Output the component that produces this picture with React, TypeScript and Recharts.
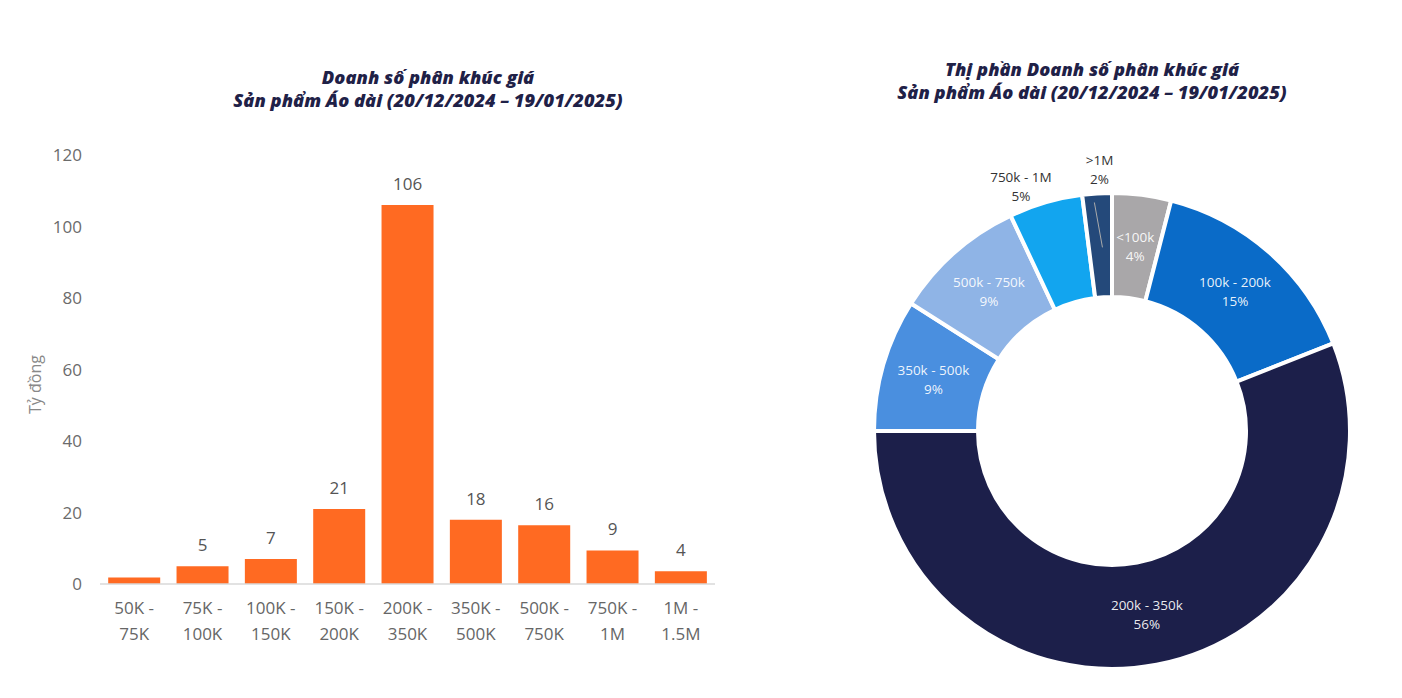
import { BarChart, Bar, XAxis, YAxis, LabelList, PieChart, Pie, Cell, Label } from 'recharts';

const priceBands = ['50K - 75K', '75K - 100K', '100K - 150K', '150K - 200K', '200K - 350K', '350K - 500K', '500K - 750K', '750K - 1M', '1M - 1.5M'];
const revenue = [1.8, 5, 7, 21, 106, 18, 16.4, 9.4, 3.6];
const yTicks = [0, 20, 40, 60, 80, 100, 120];

const shareNames = ['<100k', '100k - 200k', '200k - 350k', '350k - 500k', '500k - 750k', '750k - 1M', '>1M'];
const shareValues = [4, 15, 56, 9, 9, 5, 2];
const shareColors = ['#A9A7A9', '#0A6BC8', '#1C1F4A', '#4A8FDF', '#8FB4E6', '#12A5EF', '#24497A'];
const shareOutside = [false, false, false, false, false, true, true];

const barData = priceBands.map((band, i) => ({ band, value: revenue[i] }));
const pieData = shareNames.map((name, i) => ({ name, value: shareValues[i], outside: shareOutside[i] }));

const FONT = '"Open Sans", "Noto Sans", sans-serif';
const RAD = Math.PI / 180;

function BandTick(props: any) {
  const { x, y, payload } = props;
  const [a, b] = String(payload.value).split(' - ');
  return (
    <text x={x} y={y} textAnchor="middle" fill="#666" fontSize={17} fontFamily={FONT}>
      <tspan x={x} dy={22}>{a} -</tspan>
      <tspan x={x} dy={26}>{b}</tspan>
    </text>
  );
}

function renderShareLabel(props: any) {
  const { cx, cy, midAngle, innerRadius, outerRadius, payload, index } = props;
  const outside = payload.outside;
  const r = outside ? outerRadius + 24 : (innerRadius + outerRadius) / 2;
  // outside labels sit a little left of the slice, as in the original
  const nudgeX = outside ? (index === shareNames.length - 1 ? 4 : -18) : 0;
  const nudgeY = outside ? (index === shareNames.length - 1 ? -1 : 7) : 0;
  const x = cx + r * Math.cos(-midAngle * RAD) + nudgeX;
  const y = cy + r * Math.sin(-midAngle * RAD) + nudgeY;
  const fill = outside ? '#333' : '#ffffff';
  return (
    <g key={`lbl-${index}`}>
      {outside && index === shareNames.length - 1 && (
        <line
          x1={cx + (outerRadius - 5) * Math.cos(-midAngle * RAD) - 3}
          y1={cy + (outerRadius - 5) * Math.sin(-midAngle * RAD) + 4}
          x2={cx + (innerRadius + 50) * Math.cos(-midAngle * RAD) + 2}
          y2={cy + (innerRadius + 50) * Math.sin(-midAngle * RAD)}
          stroke="#aaa"
          strokeWidth={1}
        />
      )}
      <text x={x} y={y} textAnchor="middle" fill={fill} fillOpacity={outside ? 1 : 0.92} fontSize={13.5} fontFamily={FONT}>
        <tspan x={x} dy={-4}>{payload.name}</tspan>
        <tspan x={x} dy={19}>{payload.value}%</tspan>
      </text>
    </g>
  );
}

const titleStyle: React.CSSProperties = {
  position: 'absolute',
  textAlign: 'center',
  fontFamily: FONT,
  fontWeight: 800,
  fontStyle: 'italic',
  fontSize: 18.3,
  lineHeight: '23px',
  color: '#1F2147',
};

export default function App() {
  return (
    <div style={{ position: 'absolute', left: 0, top: 0, width: 1402, height: 698, background: '#fff', overflow: 'hidden' }}>
      <div style={{ ...titleStyle, left: 128, top: 65, width: 600 }}>
        Doanh số phân khúc giá<br />Sản phẩm Áo dài (20/12/2024 – 19/01/2025)
      </div>
      <div style={{ ...titleStyle, left: 792, top: 57, width: 600 }}>
        Thị phần Doanh số phân khúc giá<br />Sản phẩm Áo dài (20/12/2024 – 19/01/2025)
      </div>

      <div style={{ position: 'absolute', left: 0, top: 0 }}>
        <BarChart width={740} height={698} data={barData} margin={{ top: 155, right: 25, bottom: 54, left: 20 }} barCategoryGap="12%">
          <XAxis dataKey="band" height={60} interval={0} tick={<BandTick />} tickLine={false} axisLine={{ stroke: '#d9d9d9', strokeWidth: 1.5 }} />
          <YAxis
            width={80}
            domain={[0, 120]}
            ticks={yTicks}
            axisLine={false}
            tickLine={false}
            tickMargin={12}
            tick={{ fill: '#6b6b6b', fontSize: 17, fontFamily: FONT }}
          >
            <Label
              content={(p: any) => {
                const vb = p.viewBox;
                const lx = vb.x + 15;
                const ly = vb.y + vb.height / 2 + 15;
                return (
                  <text x={lx} y={ly} transform={`rotate(-90 ${lx} ${ly})`} textAnchor="middle" dominantBaseline="central" fill="#888" fontSize={16} fontFamily={FONT}>
                    Tỷ đồng
                  </text>
                );
              }}
            />
          </YAxis>
          <Bar dataKey="value" fill="#FF6A22" isAnimationActive={false}>
            <LabelList
              dataKey="value"
              position="top"
              offset={15}
              fill="#555"
              fontSize={17}
              fontFamily={FONT}
              formatter={(v: any) => (v < 3 ? '' : Math.round(v))}
            />
          </Bar>
        </BarChart>
      </div>

      <div style={{ position: 'absolute', left: 832, top: 0 }}>
        <PieChart width={560} height={698}>
          <Pie
            data={pieData}
            dataKey="value"
            nameKey="name"
            cx={275}
            cy={426}
            innerRadius={134}
            outerRadius={238}
            startAngle={90}
            endAngle={-270}
            stroke="#fff"
            strokeWidth={4}
            label={renderShareLabel}
            labelLine={false}
            isAnimationActive={false}
          >
            {pieData.map((d, i) => (
              <Cell key={d.name} fill={shareColors[i]} />
            ))}
          </Pie>
        </PieChart>
      </div>
    </div>
  );
}
